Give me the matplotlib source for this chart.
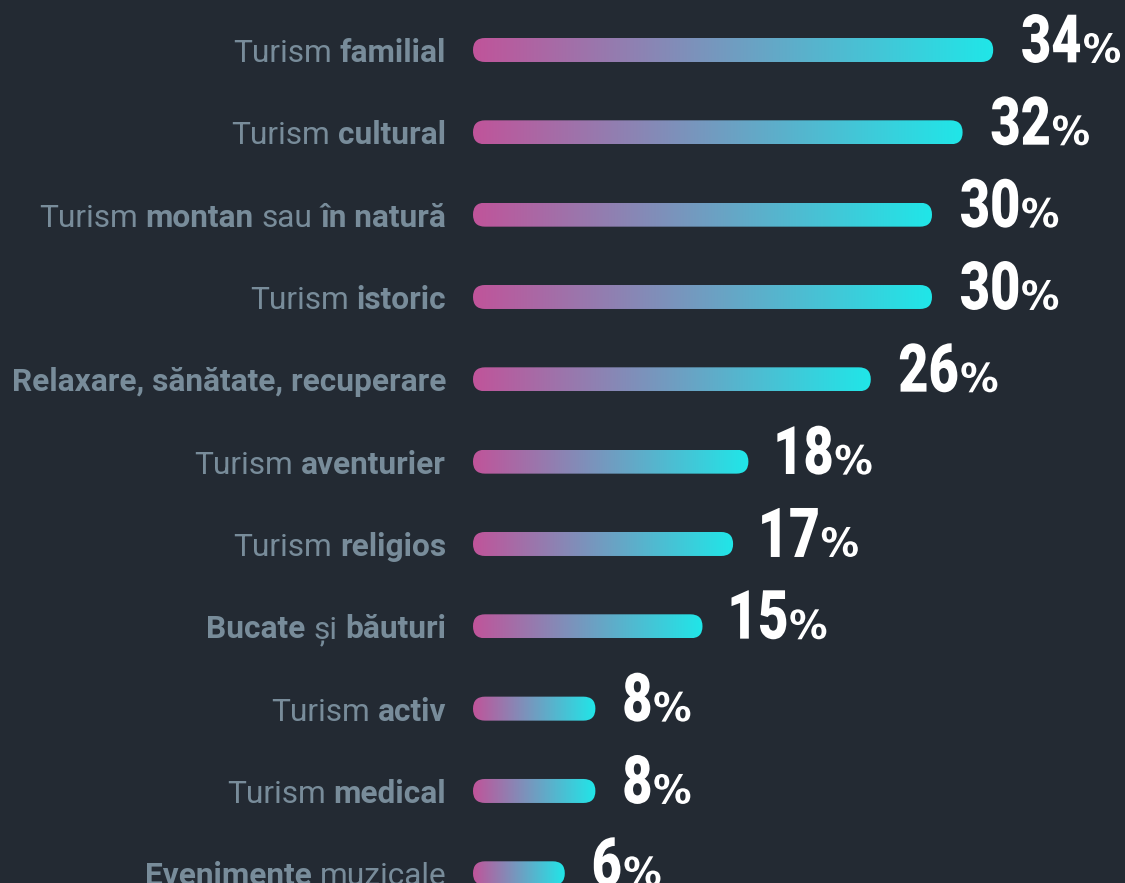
import numpy as np
import matplotlib
matplotlib.use("Agg")
import matplotlib.pyplot as plt
import matplotlib.transforms as mtransforms
from matplotlib.patches import FancyBboxPatch, PathPatch
from matplotlib.colors import LinearSegmentedColormap
from matplotlib.textpath import TextPath
from matplotlib.font_manager import FontProperties

# =========================
# DATA
# =========================
# each label is a list of (word group, is_bold)
label_parts = [
    [("Turism", False), ("familial", True)],
    [("Turism", False), ("cultural", True)],
    [("Turism", False), ("montan", True), ("sau", False), ("în natură", True)],
    [("Turism", False), ("istoric", True)],
    [("Relaxare, sănătate, recuperare", True)],
    [("Turism", False), ("aventurier", True)],
    [("Turism", False), ("religios", True)],
    [("Bucate", True), ("și", False), ("băuturi", True)],
    [("Turism", False), ("activ", True)],
    [("Turism", False), ("medical", True)],
    [("Evenimente", True), ("muzicale", False)],
]
values = [34, 32, 30, 30, 26, 18, 17, 15, 8, 8, 6]

# =========================
# STYLE
# =========================
BG = "#232a33"
LABEL_COLOR = "#788c9a"
PINK = "#c0549a"
CYAN = "#20e6e8"
W, H, DPI = 1125, 883, 100

PX_PER_UNIT = 15.3      # horizontal pixels per percent
ROW_PX = 82.33          # vertical pixels per row
BAR_PX = 24             # bar thickness

cmap = LinearSegmentedColormap.from_list("bar", [PINK, CYAN])

fig = plt.figure(figsize=(W / DPI, H / DPI), dpi=DPI, facecolor=BG)
x0 = 473
ax = fig.add_axes([x0 / W, 0, (W - x0) / W, 1])
ax.axis("off")
ax.set_xlim(0, (W - x0) / PX_PER_UNIT)
ax.set_ylim((H - 50) / ROW_PX, -50 / ROW_PX)

renderer = fig.canvas.get_renderer()
h = BAR_PX / ROW_PX
aspect = PX_PER_UNIT / ROW_PX
radius = (BAR_PX / 2) / PX_PER_UNIT
gradient = np.linspace(0, 1, 256).reshape(1, -1)


def offset(dx, dy):
    return mtransforms.offset_copy(ax.transData, fig=fig, x=dx, y=dy, units="dots")


def width_px(txt, **kw):
    t = fig.text(0, 0, txt, **kw)
    w = t.get_window_extent(renderer=renderer).width
    t.remove()
    return w


LABEL_FONT = dict(family=["Roboto", "DejaVu Sans"], fontsize=22.8)
space_px = width_px("a a", **LABEL_FONT) - width_px("aa", **LABEL_FONT)

NUM_PROP = FontProperties(family="Roboto", weight="black")
PCT_PROP = FontProperties(family="DejaVu Sans", weight="bold")


def glyphs(text, prop, height_px, width_scale, width_px_target, x, y, dx, dy):
    """Draw text as a path, stretched to a given ink height (pixels).
    Returns the ink width in pixels."""
    path = TextPath((0, 0), text, size=100, prop=prop)
    ext = path.get_extents()
    sy = height_px / ext.height
    sx = width_px_target / ext.width if width_px_target else sy * width_scale
    tr = (mtransforms.Affine2D().translate(-ext.x0, -ext.y0).scale(sx, sy).translate(dx, dy)
          + mtransforms.ScaledTranslation(x, y, ax.transData))
    ax.add_patch(PathPatch(path, transform=tr, facecolor="white",
                           edgecolor="none", clip_on=False))
    return ext.width * sx


for i, (parts, v) in enumerate(zip(label_parts, values)):
    # gradient bar with rounded ends
    patch = FancyBboxPatch(
        (0, i - h / 2), v, h,
        boxstyle=f"round,pad=0,rounding_size={radius}",
        mutation_aspect=aspect,
        facecolor="none", edgecolor="none",
    )
    ax.add_patch(patch)
    im = ax.imshow(gradient, cmap=cmap, aspect="auto",
                   extent=(0, v, i + h / 2, i - h / 2), interpolation="bilinear")
    im.set_clip_path(patch)

    # category label, right aligned, drawn right to left
    cum = 27
    for text, bold in reversed(parts):
        t = ax.text(0, i, text, ha="right", va="baseline", color=LABEL_COLOR,
                    fontweight="bold" if bold else "normal",
                    transform=offset(-cum, -12), **LABEL_FONT)
        cum += t.get_window_extent(renderer=renderer).width + space_px

    # value label: condensed number + smaller percent sign
    nw = glyphs(str(v), NUM_PROP, 49, 0.78, None, v, i, 29, -13)
    glyphs("%", PCT_PROP, 30, None, 36, v, i, 29 + nw + 4, -13)

ax.set_xlim(0, (W - x0) / PX_PER_UNIT)
ax.set_ylim((H - 50) / ROW_PX, -50 / ROW_PX)

plt.savefig("out.png", dpi=DPI, facecolor=BG)
print("[INFO] Saved chart")
